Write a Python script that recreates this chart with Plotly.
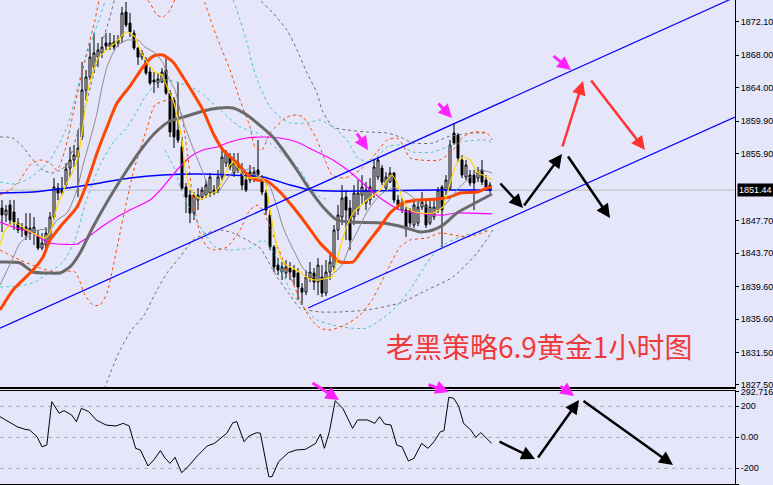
import plotly.graph_objects as go

# ---------------- candles (1h bars, index 0..122) ----------------
open_ = [1849.24,1848.38,1849.61,1848.75,1847.39,1846.53,1846.90,1846.16,1846.16,1845.92,
         1844.32,1844.69,1845.30,1848.13,1851.69,1851.45,1852.06,1854.15,1855.14,1855.50,
         1857.96,1863.74,1865.34,1866.57,1867.79,1868.29,1869.52,1869.02,1869.64,1869.52,
         1870.25,1873.33,1871.97,1870.74,1868.90,1867.79,1867.43,1865.95,1864.97,1864.60,
         1864.72,1866.20,1863.37,1862.51,1858.82,1856.73,1851.82,1850.83,1848.62,1850.22,
         1850.59,1850.83,1851.08,1851.45,1851.45,1853.05,1854.77,1855.50,1853.54,1854.77,
         1853.54,1852.68,1852.68,1852.92,1853.91,1852.92,1851.08,1848.38,1844.44,1842.23,
         1841.37,1841.25,1841.86,1841.62,1841.25,1839.40,1838.91,1840.63,1841.25,1840.14,
         1840.76,1838.79,1841.37,1841.99,1846.53,1848.13,1850.59,1849.24,1848.13,1848.99,
         1850.83,1849.85,1850.22,1851.08,1853.05,1854.15,1851.69,1852.43,1853.54,1850.22,
         1848.99,1848.99,1848.99,1847.15,1847.39,1849.36,1849.61,1847.39,1848.13,1848.99,
         1851.82,1851.45,1851.69,1858.45,1858.21,1855.14,1853.05,1853.29,1853.29,1852.92,
         1853.91,1852.68,1852.06]
high_ = [1850.22,1849.61,1850.22,1850.22,1848.01,1847.39,1848.62,1848.62,1848.13,1846.53,
         1846.16,1846.90,1848.75,1852.92,1852.31,1853.05,1854.77,1856.73,1856.98,1858.82,
         1867.18,1866.20,1869.52,1870.74,1869.52,1870.25,1870.74,1870.74,1870.50,1870.50,
         1873.94,1874.55,1873.20,1871.11,1869.02,1868.65,1867.79,1866.57,1865.95,1865.83,
         1866.44,1867.79,1863.74,1862.88,1864.72,1857.96,1852.31,1851.45,1851.20,1851.69,
         1851.82,1852.68,1853.54,1852.06,1853.91,1856.36,1856.36,1856.00,1856.00,1856.00,
         1854.77,1853.54,1854.52,1854.28,1857.59,1853.29,1851.45,1848.99,1844.69,1843.09,
         1842.60,1842.85,1842.60,1842.23,1841.86,1840.02,1841.62,1842.60,1841.86,1843.09,
         1842.23,1842.85,1843.46,1847.15,1849.61,1852.06,1851.45,1850.22,1852.06,1852.68,
         1853.29,1852.43,1852.92,1855.14,1855.50,1854.52,1853.66,1854.28,1853.66,1850.83,
         1850.47,1849.36,1849.24,1850.22,1850.22,1851.20,1850.22,1850.22,1850.47,1851.82,
         1852.06,1853.29,1857.59,1859.68,1858.45,1855.75,1855.14,1853.91,1853.91,1854.28,
         1855.14,1853.29,1852.43]
low_ = [1846.29,1847.52,1847.15,1846.53,1846.16,1845.67,1845.30,1845.30,1844.69,1844.07,
        1844.07,1844.07,1844.94,1847.76,1850.22,1850.83,1851.82,1853.05,1854.28,1850.59,
        1857.59,1862.51,1864.97,1865.83,1866.57,1867.67,1868.65,1868.65,1868.65,1869.02,
        1869.52,1871.48,1870.25,1868.65,1866.81,1867.43,1865.58,1864.35,1863.37,1863.98,
        1864.60,1863.12,1857.96,1856.61,1857.23,1851.45,1848.62,1847.39,1847.76,1848.99,
        1850.22,1850.47,1850.59,1850.83,1851.08,1852.68,1854.28,1853.91,1853.05,1853.54,
        1851.45,1851.20,1852.31,1852.43,1852.92,1850.83,1848.38,1844.07,1841.37,1841.00,
        1840.39,1840.63,1840.39,1839.77,1837.93,1837.32,1838.54,1840.14,1839.16,1838.54,
        1838.30,1838.42,1840.39,1841.62,1845.30,1847.15,1845.30,1844.07,1847.15,1848.38,
        1849.61,1848.99,1849.61,1850.47,1852.68,1852.06,1851.45,1852.31,1849.85,1848.99,
        1848.62,1845.67,1846.90,1846.78,1847.02,1848.99,1846.78,1847.15,1847.76,1848.62,
        1844.44,1850.83,1851.45,1856.98,1854.89,1852.92,1852.68,1851.94,1848.99,1852.43,
        1852.06,1851.45,1851.08]
close_ = [1848.38,1848.99,1847.76,1847.52,1846.53,1846.90,1845.92,1846.78,1846.90,1844.32,
          1844.94,1846.16,1848.13,1851.82,1851.08,1851.08,1854.03,1855.14,1855.75,1856.61,
          1863.74,1865.34,1867.79,1868.29,1868.65,1869.02,1869.15,1869.52,1869.02,1869.88,
          1873.20,1871.73,1870.87,1868.90,1867.79,1868.29,1865.83,1864.60,1864.72,1865.09,
          1865.95,1863.37,1858.58,1857.96,1857.59,1851.69,1850.59,1848.62,1850.83,1850.83,
          1851.45,1852.06,1853.05,1851.08,1853.05,1855.50,1856.12,1854.28,1854.77,1853.91,
          1852.06,1851.45,1853.66,1853.66,1853.29,1851.20,1848.99,1844.44,1841.99,1841.62,
          1841.99,1841.99,1841.37,1840.76,1839.53,1838.91,1840.76,1841.37,1840.14,1842.23,
          1838.79,1841.37,1842.60,1846.53,1848.38,1850.47,1848.99,1845.30,1851.08,1851.08,
          1851.82,1851.45,1851.82,1854.28,1855.14,1852.43,1853.05,1853.54,1850.22,1849.61,
          1849.85,1846.78,1847.39,1849.61,1849.36,1849.97,1847.15,1849.36,1849.36,1851.45,
          1848.99,1852.68,1856.98,1857.23,1855.38,1853.29,1854.52,1852.31,1852.31,1853.66,
          1852.43,1851.82,1851.44]
bars = list(range(len(close_)))
last_price = 1851.44

# ---------------- moving averages ----------------
ma_yellow_x = [-0.5,0.75,2.75,4,6.25,8.75,10.75,12,13.75,15.75,17.5,19,20,20.75,21.5,22.75,24,26.25,28.25,30.75,
               31.5,33.25,34.5,36.25,38.25,40,41.25,42.75,44,45,45.75,47,48.75,50,51.5,53.25,55,56.5,57.75,59,
               60.75,62,64.5,65.75,66.5,67.75,69,70.25,72,74.5,76.5,78.75,81.25,82.5,
               83.75,85.25,87.75,91.25,94.5,97.5,98.75,100.25,102,104.5,107.75,110.25,112,113.75,115.25,117,118.75,121.25,122.5]
ma_yellow = [1844.69,1846.53,1847.39,1847.27,1846.53,1845.92,1845.55,1846.16,1849.36,1851.82,1853.54,1855.50,1858.45,1861.28,1863.74,1865.95,1867.67,1868.65,1869.52,1870.74,
             1870.87,1870.25,1868.65,1867.18,1865.95,1865.58,1864.11,1862.51,1860.06,1857.59,1854.28,1851.69,1850.59,1850.34,1850.83,1851.20,1852.43,1854.15,1854.89,1854.15,
             1853.05,1852.92,1853.05,1852.43,1850.59,1846.90,1844.07,1842.60,1841.99,1841.37,1840.63,1840.39,1840.63,1840.76,
             1842.85,1845.68,1848.63,1850.23,1851.46,1853.30,1852.32,1850.23,1849.00,1848.63,1848.63,1849.37,1852.32,1854.77,1855.51,1855.14,1853.67,1853.05,1852.68]

ma_gray_x = [-0.5,2.5,4.5,6.25,8.25,10.75,12,13.75,16.25,18.75,20.25,22,23.75,25,26.25,27.75,29,31.25,32.5,34,
             35.75,38.25,40.25,41.5,43.25,44.5,45.75,47,48.25,50,51.5,52.75,54,55.75,57.5,59,60.75,62.75,64.5,67,
             68.75,70.25,72,73.75,75.25,77.5,79.5,81.5,83.25,85,
             87,88.75,91.25,94.5,97.75,101.25,104.5,107.75,110.25,113.75,116.25,119.5,122.5]
ma_gray = [1839.77,1842.85,1844.94,1845.67,1846.41,1846.66,1846.53,1847.76,1848.62,1851.45,1854.52,1857.59,1860.91,1864.11,1866.57,1868.29,1869.27,1869.88,1869.88,1869.88,
           1869.02,1868.29,1867.06,1865.34,1863.74,1861.28,1859.19,1857.59,1856.00,1853.91,1852.06,1851.20,1851.20,1852.43,1853.54,1853.91,1853.91,1854.15,1852.92,1851.82,
           1849.36,1846.90,1844.94,1843.22,1841.86,1840.88,1840.51,1840.76,1841.37,1842.23,
           1844.70,1846.29,1848.75,1850.84,1851.70,1851.09,1849.86,1849.00,1849.37,1851.46,1852.68,1853.91,1853.54]

ma_orange_x = [-0.5,2.75,7.75,10.25,12,14.5,18.75,21.25,23.75,26.25,28.75,32,35.25,37.5,38.75,40.25,42.75,45.25,47.75,50.25,
               52.75,55.25,58.75,62,63.75,66.25,69.5,72.75,76.25,79.5,82,83.75,84.5,87.75,89.5,92,94.5,97,100.25,103.75,
               108.75,112,114.5,118.75,121.25,122.5]
ma_orange = [1836.71,1839.17,1841.62,1843.22,1845.31,1846.91,1849.37,1852.32,1856.00,1859.20,1862.14,1864.23,1866.57,1867.80,1868.04,1868.04,1867.18,1865.34,1863.37,1861.28,
             1858.46,1856.37,1854.77,1853.05,1852.68,1852.56,1851.21,1849.37,1847.15,1844.94,1843.71,1842.85,1842.61,1842.61,1843.71,1845.31,1846.91,1848.63,1849.86,1850.23,
             1850.35,1850.59,1851.09,1851.21,1851.70,1851.82]

ma_dark_x = [-0.5,4.5,7.75,11.25,14.5,17,19.5,22.75,27,31.25,35.25,38.75,42,46.25,50.25,54.5,57.75,61.25,65.25,67.75,
             70.25,73.75,77,80.25,83.75,87,95.25,100.25,104.5,107.75,110.25,113.75,118.75,122.5]
ma_dark = [1842.61,1842.49,1841.38,1841.26,1841.26,1842.00,1843.71,1846.91,1850.59,1853.91,1856.74,1858.70,1859.93,1860.55,1861.16,1861.53,1861.53,1860.67,1859.07,1857.97,
           1856.37,1853.91,1851.46,1849.37,1847.77,1847.52,1847.40,1846.91,1846.29,1846.54,1847.15,1848.63,1849.98,1850.96]

ma_magenta_x = [-0.5,2.75,7.75,11.25,13.75,18.75,21.25,24.5,28.75,32,37,40.25,43.75,47,50.25,53.75,57,61.25,65.25,69.5,
                73.75,77.75,82.75,87,91.25,95.25,99.5,103.75,110.25,113.75,122.5]
ma_magenta = [1847.52,1846.91,1846.17,1845.07,1844.82,1844.82,1845.56,1846.79,1848.14,1849.00,1850.23,1851.82,1853.91,1855.51,1856.37,1856.74,1857.35,1857.84,1857.97,1857.84,
              1857.35,1856.37,1855.14,1853.67,1851.82,1850.23,1849.00,1848.63,1848.38,1848.63,1848.51]

ma_blue_x = [-0.5,7.75,16.25,24.5,32,40.25,48.75,57,65.25,72,77,82,91.25,107.75,122.5]
ma_blue = [1851.09,1851.21,1851.70,1852.32,1852.93,1853.30,1853.42,1853.30,1853.05,1852.07,1851.46,1851.33,1851.33,1851.46,1851.46]

# ---------------- band (dashed) lines ----------------
band_orange_up_x = [-0.5,2,4.5,7,9.5,12,13.75,15.75,18.25,20.75,23.25,25,29.5,34.5,37,38.75,40.25,42,43.75,47,
                    50.75,52.75,55,57,59.5,62,63.25,65,67,71.25,73.75,75.25,77,78.75,80.75,82.5,85.75,89.5,92,93.75,
                    96.25,98.75,100.25,102,104.5,109.5,112.75,115.25,117.75,121.25,122.5]
band_orange_up = [1850.84,1851.46,1852.68,1854.53,1855.14,1854.77,1853.91,1856.37,1861.90,1867.43,1872.34,1876.03,1878.49,1876.03,1874.43,1872.96,1872.71,1873.57,1875.41,1878.49,
                  1874.43,1871.48,1868.66,1866.20,1862.51,1859.20,1856.74,1856.37,1858.46,1860.42,1860.67,1860.42,1859.20,1857.60,1855.14,1853.30,1852.93,1853.91,1855.14,1856.12,
                  1857.60,1857.84,1856.98,1855.39,1855.14,1855.14,1856.37,1857.97,1858.58,1858.46,1857.60]
band_orange_lo_x = [-0.5,4.5,9.5,13.25,18.25,20.75,22.75,24.5,26.25,27.75,29.5,31.25,32.75,34.5,36.25,38.25,42,44.5,46.25,47.75,
                    49.5,51.25,53.25,56.25,59.5,62,64,65.75,68.25,70.75,72.75,74.5,77,79.5,82,85.75,89.5,92.5,94.5,97,
                    99.5,102,106.25,109.5,116.25,122]
band_orange_lo = [1844.08,1842.85,1841.87,1841.38,1841.38,1838.55,1837.32,1837.32,1838.80,1842.00,1846.17,1850.23,1853.54,1856.37,1859.07,1861.90,1862.51,1861.28,1856.37,1850.23,
                  1846.17,1844.45,1844.08,1844.45,1846.54,1849.00,1849.61,1848.38,1845.31,1842.24,1840.03,1837.94,1835.73,1834.50,1834.25,1834.87,1836.10,1837.94,1839.78,1842.24,
                  1844.45,1845.31,1845.56,1846.17,1845.68,1846.54]
band_cyan_up_x = [-0.5,3.25,7,12,16.25,20.25,24.5,27,37,55.75,57.75,59.5,61.25,62.75,64.5,67,69.5,72,76.25,79.5,
                  82.75,86.25,88.75,91.25,93.75,96.25,99.5,102.75,107.75,111.25,114.5,121.25,122.5]
band_cyan_up = [1852.44,1852.19,1852.93,1855.14,1859.20,1866.57,1872.71,1876.03,1879.71,1876.03,1874.80,1872.34,1869.52,1866.57,1864.11,1861.65,1860.42,1859.69,1859.69,1860.06,
                1859.20,1857.60,1855.51,1854.89,1855.51,1856.74,1856.98,1856.12,1856.12,1856.74,1857.35,1857.60,1857.23]
band_cyan_mid_x = [-0.5,4.5,8.25,12,15.25,18.25,20.75,24.5,28.25,30.75,33.25,35.75,38.25,40.75,43.75,48.75,53.75,59.5,63.75,67,
                   72,74.5,77,79.5,82]
band_cyan_mid = [1839.54,1839.66,1840.15,1841.38,1842.61,1845.31,1849.61,1854.53,1857.60,1858.83,1860.67,1862.88,1864.36,1864.97,1864.72,1863.74,1861.65,1859.20,1858.46,1857.23,
                 1855.14,1853.91,1851.82,1850.59,1850.23]
band_cyan_lo_x = [40.75,43.25,45,47.5,50,53.25,57,62,65.25,68.25,72,75.25,78.75,82.75,87,91.25,97.75,102,106.25,109.5,114.5,121.25]
band_cyan_lo = [1856.37,1853.91,1851.09,1848.63,1846.54,1844.45,1844.08,1844.33,1845.31,1843.47,1839.17,1837.08,1835.48,1834.87,1834.50,1834.50,1836.71,1839.17,1842.49,1844.45,1845.68,1846.54]
band_gray_up_x = [-0.5,2.75,5.25,7.75,10.25,12.5,14.5,16.25,18.75,21.25,24.5,27,28.75,44.5,63.25,65,67.75,71.25,73.75,76.25,
                  78.75,80,82.75,86.25,91.25,96.25,99.5,102.75,107.75,111.25,117.75,121.25]
band_gray_up = [1857.97,1857.84,1856.74,1855.14,1853.91,1853.54,1853.91,1854.53,1858.21,1862.51,1868.66,1872.71,1875.41,1879.71,1875.41,1874.55,1873.20,1871.11,1868.66,1865.83,
                1863.37,1861.28,1859.20,1858.83,1858.58,1858.46,1857.97,1857.23,1857.23,1857.97,1858.46,1858.46]
band_gray_lo_x = [24.5,29.5,32.75,35.25,38.75,41.25,44.5,47.75,51.25,54.5,57.75,61.25,64.5,68.75,72,74.5,79.5,84.5,91.25,99.5,106.25,112.75,118.75,122.75]
band_gray_lo = [1825.65,1831.80,1834.50,1835.85,1839.17,1841.26,1843.22,1845.31,1846.17,1846.54,1846.17,1845.31,1844.33,1840.77,1838.55,1836.96,1836.47,1836.47,1836.71,1837.57,1839.17,1840.77,1843.71,1846.54]

# ---------------- channel trend lines ----------------
channel_up_x = [-0.5, 183.25]
channel_up = [1834.49, 1875.14]
channel_lo_x = [76.5, 183.25]
channel_lo = [1836.95, 1860.42]

# ---------------- CCI sub window ----------------
cci_x = [-0.5,2.0,3.8,5.7,6.9,8.75,10.0,11.2,12.45,14.3,15.5,17.4,18.6,19.85,21.7,23.55,26,28.5,30.3,31.8,
         33.4,34.6,36.5,37.95,39.6,40.8,42,43.25,44.9,46.35,48.8,51.3,53.1,56.2,57.7,58.7,60.5,61.75,63.6,64.6,
         66.7,67.5,69.15,71.6,73.5,75.9,78.4,79.6,80.6,81.85,83.3,85.2,87.65,88.9,91.35,93.2,94.4,95.65,97.25,98.7,
         100,101.6,103,104.9,106.5,108,109.6,110.5,111.7,112.9,114.15,115.4,117.2,118.45,119.7,120.9,122.4]
cci = [133,94,68,52,47,4,-61,-50,230,155,172,144,101,187,165,112,79,73,90,73,
       -71,-82,-185,-146,-86,-135,-168,-129,-228,-194,-121,-56,-39,26,94,101,-28,8,30,26,
       -254,-254,-157,-99,-82,-77,-39,21,-71,36,236,187,58,112,112,90,133,86,79,-50,
       -61,-153,-135,-39,-71,-28,36,43,258,252,202,90,47,0,30,0,-39]
cci_levels = [200, 0, -200]
cci_max, cci_min = 292.7169, -301.17

price_ticks = [1872.10, 1868.00, 1864.00, 1859.90, 1855.90, 1847.70, 1843.70, 1839.60, 1835.60, 1831.50, 1827.50]

# ---------------- figure ----------------
W, H = 773, 485
BG = "#E6E6FA"
XD = [0, 735 / W]
XR = [-0.5, 183.25]

fig = go.Figure()

def line(x, y, color, width=1, dash=None, shape="spline", axis=("x", "y")):
    fig.add_trace(go.Scatter(x=x, y=y, mode="lines", xaxis=axis[0], yaxis=axis[1],
                             line=dict(color=color, width=width, dash=dash, shape=shape,
                                       smoothing=0.6 if shape == "spline" else None),
                             hoverinfo="skip", showlegend=False))

DASH = "3px,3px"
line(band_gray_up_x, band_gray_up, "#6E6E6E", 1, DASH)
line(band_gray_lo_x, band_gray_lo, "#6E6E6E", 1, DASH)
line(band_cyan_up_x, band_cyan_up, "#40C8C8", 1, DASH)
line(band_cyan_mid_x, band_cyan_mid, "#40C8C8", 1, DASH)
line(band_cyan_lo_x, band_cyan_lo, "#40C8C8", 1, DASH)
line(band_orange_up_x, band_orange_up, "#FF4500", 1, DASH)
line(band_orange_lo_x, band_orange_lo, "#FF4500", 1, DASH)

fig.add_trace(go.Candlestick(
    x=bars, open=open_, high=high_, low=low_, close=close_, xaxis="x", yaxis="y",
    increasing=dict(line=dict(color="black", width=1), fillcolor="white"),
    decreasing=dict(line=dict(color="black", width=1), fillcolor="black"),
    whiskerwidth=0, hoverinfo="skip", showlegend=False))

line(ma_blue_x, ma_blue, "#0000FF", 1.5)
line(ma_magenta_x, ma_magenta, "#FF00FF", 1.2)
line(ma_dark_x, ma_dark, "#6A6A6A", 3)
line(ma_orange_x, ma_orange, "#FF4500", 3)
line(ma_gray_x, ma_gray, "#8A8A8A", 1)
line(ma_yellow_x, ma_yellow, "#FFD700", 1.2)
line(channel_up_x, channel_up, "#0000FF", 1.2, shape="linear")
line(channel_lo_x, channel_lo, "#0000FF", 1.2, shape="linear")

line(cci_x, cci, "black", 1, shape="linear", axis=("x2", "y2"))

shapes = [dict(type="line", xref="paper", x0=XD[0], x1=XD[1], yref="y", y0=last_price, y1=last_price,
               line=dict(color="#BEBEBE", width=1), layer="below")]
for lv in cci_levels:
    shapes.append(dict(type="line", xref="paper", x0=XD[0], x1=XD[1], yref="y2", y0=lv, y1=lv,
                       line=dict(color="#A8A8A8", width=1, dash="4px,4px"), layer="below"))

def px2p(px, py):
    return px / W, 1 - py / H

annotations = []
def arrow(tail, head, color, width, size=1.0):
    hx, hy = px2p(*head)
    annotations.append(dict(x=hx, y=hy, xref="paper", yref="paper", text="", showarrow=True,
                            ax=tail[0] - head[0], ay=tail[1] - head[1], axref="pixel", ayref="pixel",
                            arrowhead=2, arrowsize=size, arrowwidth=width, arrowcolor=color))

# main panel arrows
arrow((499, 182), (523, 208), "black", 2.5, 1.1)
arrow((523, 207), (562, 154), "black", 2.5, 1.1)
arrow((567, 155), (610, 218), "black", 2.5, 1.1)
arrow((562, 148), (583, 81), "#FF3333", 2.5, 1.1)
arrow((590, 79), (645, 150), "#FF3333", 2.5, 1.1)
arrow((552, 55), (571, 70), "#FF22FF", 3, 0.9)
arrow((437, 102), (452, 118), "#FF22FF", 3, 0.9)
arrow((356, 132), (368, 150), "#FF22FF", 3, 0.9)
# sub panel arrows
arrow((498, 441), (535, 459), "black", 2.5, 1.1)
arrow((537, 459), (579, 400), "black", 2.5, 1.1)
arrow((582, 400), (673, 465), "black", 2.5, 1.1)
arrow((311, 382), (339, 400), "#FF22FF", 3, 0.9)
arrow((427, 384), (449, 392), "#FF22FF", 3, 0.9)
arrow((559, 385), (574, 396), "#FF22FF", 3, 0.9)

annotations.append(dict(x=737 / W, y=last_price, xref="paper", yref="y", xanchor="left", yanchor="middle",
                        text="%.2f" % last_price, showarrow=False, bgcolor="black", borderpad=1,
                        font=dict(color="white", size=9, family="Liberation Sans")))
annotations.append(dict(x=539 / W, y=1 - 346 / H, xref="paper", yref="paper", xanchor="center", yanchor="middle",
                        text="老黑策略6.9黄金1小时图", showarrow=False,
                        font=dict(color="#F03A3A", size=28, family="Noto Sans CJK SC")))

tickfont = dict(size=9, family="Liberation Sans", color="black")
fig.update_layout(
    width=W, height=H, margin=dict(l=0, r=0, t=0, b=0, autoexpand=False),
    paper_bgcolor=BG, plot_bgcolor=BG, showlegend=False, hovermode=False,
    xaxis=dict(domain=XD, range=XR, anchor="y", rangeslider=dict(visible=False), showticklabels=False,
               ticks="", showgrid=False, zeroline=False, showline=True, linecolor="black", linewidth=1.5,
               automargin=False),
    yaxis=dict(domain=[1 - 387 / H, 1], range=[1827.25, 1874.80], anchor="x", side="right",
               tickvals=price_ticks, ticktext=["%.2f" % v for v in price_ticks], ticks="outside", ticklen=3,
               tickcolor="black", showline=True, linecolor="black", linewidth=1, showgrid=False,
               zeroline=False, tickfont=tickfont, automargin=False),
    xaxis2=dict(domain=XD, range=XR, anchor="y2", showticklabels=False, ticks="", showgrid=False,
                zeroline=False, showline=True, mirror=True, linecolor="black", linewidth=1.5,
                automargin=False),
    yaxis2=dict(domain=[1 - 484 / H, 1 - 391 / H], range=[cci_min, 298.7], anchor="x2", side="right",
                tickvals=[cci_max, 200, 0, -200, cci_min],
                ticktext=["%.4f" % cci_max, "200", "0.00", "-200", "%.3f" % cci_min],
                ticks="outside", ticklen=3, tickcolor="black", showline=True, linecolor="black", linewidth=1,
                showgrid=False, zeroline=False, tickfont=tickfont, automargin=False),
    shapes=shapes, annotations=annotations,
)

fig.write_html("out.html", config={"displayModeBar": False, "staticPlot": True},
               post_script="document.body.style.margin='0px';document.body.style.background='%s';" % BG)
